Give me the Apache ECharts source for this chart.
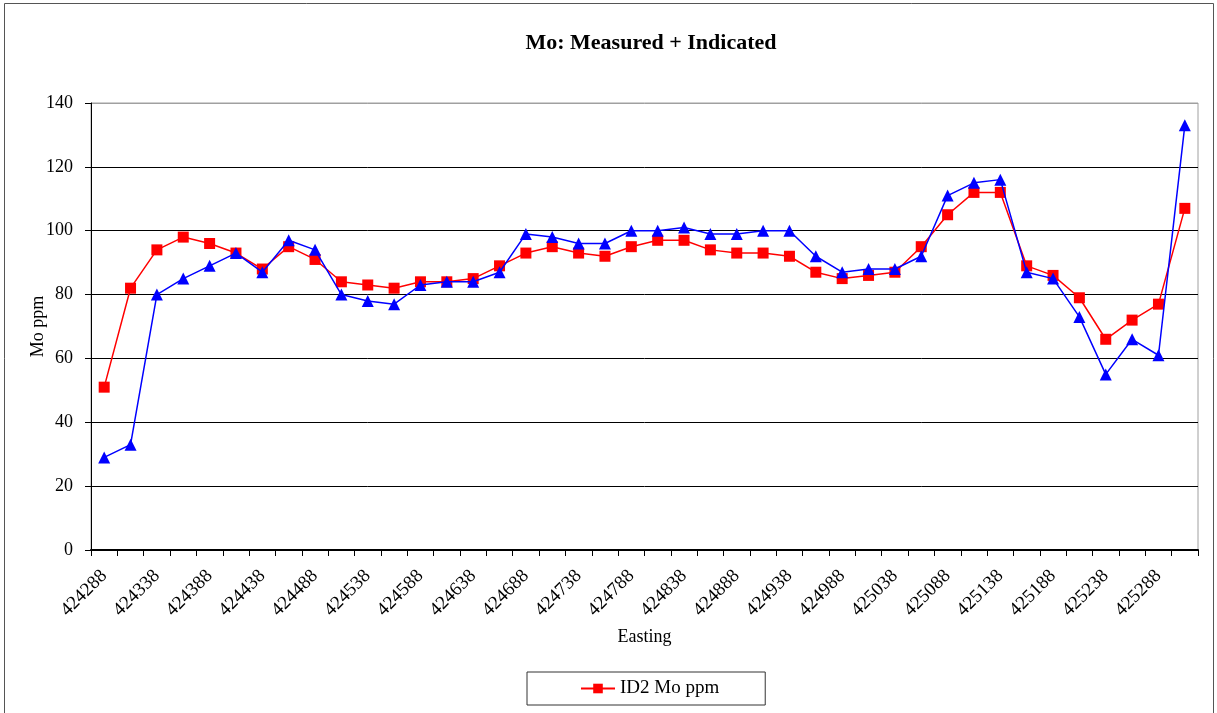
<!DOCTYPE html>
<html>
<head>
<meta charset="utf-8">
<script src="https://cdn.jsdelivr.net/npm/echarts@6/dist/echarts.min.js"></script>
<style>
html,body{margin:0;padding:0;background:#fff;}
#chart{width:1217px;height:713px;}
</style>
</head>
<body>
<div id="chart"></div>
<script>
// Categories: Easting values (every 25 m)
const eastings = [
  424288, 424313, 424338, 424363, 424388, 424413, 424438, 424463, 424488, 424513,
  424538, 424563, 424588, 424613, 424638, 424663, 424688, 424713, 424738, 424763,
  424788, 424813, 424838, 424863, 424888, 424913, 424938, 424963, 424988, 425013,
  425038, 425063, 425088, 425113, 425138, 425163, 425188, 425213, 425238, 425263,
  425288, 425313
];
// Red series (legend: ID2 Mo ppm)
const id2MoPpm = [
  51, 82, 94, 98, 96, 93, 88, 95, 91, 84,
  83, 82, 84, 84, 85, 89, 93, 95, 93, 92,
  95, 97, 97, 94, 93, 93, 92, 87, 85, 86,
  87, 95, 105, 112, 112, 89, 86, 79, 66, 72,
  77, 107
];
// Blue series (not named in the visible legend)
const blueMoPpm = [
  29, 33, 80, 85, 89, 93, 87, 97, 94, 80,
  78, 77, 83, 84, 84, 87, 99, 98, 96, 96,
  100, 100, 101, 99, 99, 100, 100, 92, 87, 88,
  88, 92, 111, 115, 116, 87, 85, 73, 55, 66,
  61, 133
];
const yTicks = [0, 20, 40, 60, 80, 100, 120, 140];

const FONT = '"Liberation Serif", "Times New Roman", serif';
const chart = echarts.init(document.getElementById('chart'), null, {renderer: 'canvas'});

const option = {
  animation: false,
  backgroundColor: '#ffffff',
  graphic: [
    {
      type: 'rect', silent: true, z: -1,
      shape: {x: 4.5, y: 3.5, width: 1209, height: 800},
      style: {fill: 'none', stroke: '#555', lineWidth: 1}
    },
    {
      type: 'text', silent: true,
      x: 651, y: 32,
      style: {
        text: 'Mo: Measured + Indicated',
        font: 'bold 22px ' + FONT,
        fill: '#000',
        textAlign: 'center',
        textVerticalAlign: 'top'
      }
    }
  ],
  legend: {
    data: ['ID2 Mo ppm'],
    left: 527,
    top: 672,
    orient: 'horizontal',
    padding: [7, 46, 7, 53],
    borderColor: '#333',
    borderWidth: 1,
    itemWidth: 34,
    itemHeight: 12,
    itemGap: 10,
    textStyle: {fontFamily: FONT, fontSize: 19, color: '#000'}
  },
  grid: {
    left: 91, top: 103, right: 19, bottom: 163,
    show: true, borderColor: '#a0a0a0', borderWidth: 1,
    containLabel: false
  },
  xAxis: {
    type: 'category',
    data: eastings.map(String),
    boundaryGap: true,
    name: 'Easting',
    nameLocation: 'middle',
    nameGap: 78,
    nameMoveOverlap: false,
    nameTextStyle: {fontFamily: FONT, fontSize: 18, color: '#000'},
    axisLine: {show: true, lineStyle: {color: '#000', width: 2}},
    axisTick: {show: true, interval: 0, alignWithLabel: false, length: 6, lineStyle: {color: '#000', width: 1}},
    axisLabel: {
      interval: 1, rotate: 45, margin: 23,
      fontFamily: FONT, fontSize: 19, color: '#000'
    },
    splitLine: {show: false}
  },
  yAxis: {
    type: 'value',
    min: 0, max: 140, interval: 20,
    name: 'Mo ppm',
    nameLocation: 'middle',
    nameGap: 44,
    nameMoveOverlap: false,
    nameRotate: 90,
    nameTextStyle: {fontFamily: FONT, fontSize: 18, color: '#000'},
    axisLine: {show: true, lineStyle: {color: '#000', width: 1}},
    axisTick: {show: true, length: 6, lineStyle: {color: '#000', width: 1}},
    axisLabel: {
      margin: 18, fontFamily: FONT, fontSize: 18, color: '#000',
      formatter: function (v) { return yTicks.indexOf(v) >= 0 ? String(v) : ''; }
    },
    splitLine: {
      show: true,
      lineStyle: {color: ['#000', '#000', '#000', '#000', '#000', '#000', '#000', '#a0a0a0'], width: 1}
    }
  },
  series: [
    {
      name: 'ID2 Mo ppm',
      type: 'line',
      data: id2MoPpm,
      symbol: 'rect',
      symbolSize: 11,
      itemStyle: {color: '#ff0000'},
      lineStyle: {color: '#ff0000', width: 1.5},
      z: 2
    },
    {
      name: 'Mo ppm',
      type: 'line',
      data: blueMoPpm,
      symbol: 'triangle',
      symbolSize: 12,
      itemStyle: {color: '#0000ff'},
      lineStyle: {color: '#0000ff', width: 1.5},
      z: 3
    }
  ]
};
chart.setOption(option);
</script>
</body>
</html>
